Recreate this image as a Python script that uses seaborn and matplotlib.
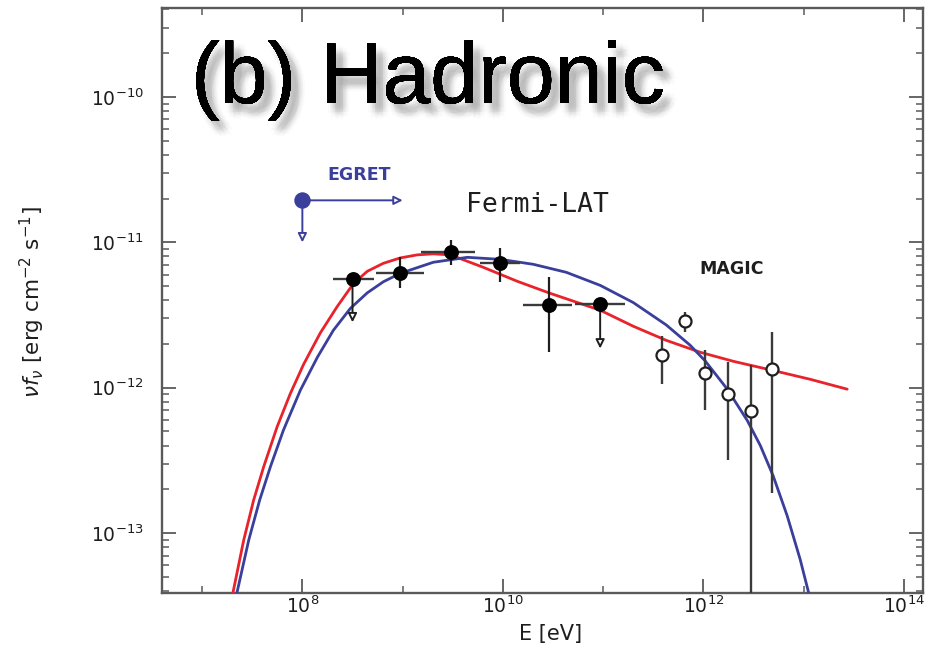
import numpy as np
import pandas as pd
import matplotlib
matplotlib.use("Agg")
import matplotlib.pyplot as plt
import seaborn as sns
from matplotlib import patheffects as pe
from matplotlib.ticker import FixedLocator, LogLocator, NullFormatter, FuncFormatter

# ---------------- data (log10 values) ----------------
red_logE = [7.307, 7.415, 7.514, 7.614, 7.748, 7.880, 8.013, 8.179, 8.346, 8.511, 8.648,
            8.808, 8.977, 9.147, 9.306, 9.476, 9.805, 10.144, 10.473, 10.971, 11.300,
            11.629, 11.968, 12.297, 12.686, 13.065, 13.434]
red_logF = [-13.412, -13.048, -12.773, -12.544, -12.269, -12.040, -11.838, -11.623,
            -11.443, -11.282, -11.199, -11.144, -11.107, -11.086, -11.079, -11.086,
            -11.172, -11.268, -11.351, -11.467, -11.577, -11.674, -11.756, -11.818,
            -11.880, -11.942, -12.010]

blue_logE = [7.347, 7.465, 7.574, 7.681, 7.811, 7.980, 8.150, 8.309, 8.479, 8.648, 8.808,
             8.977, 9.306, 9.645, 9.974, 10.303, 10.632, 10.971, 11.300, 11.629, 11.868,
             12.018, 12.237, 12.437, 12.567, 12.696, 12.836, 12.965, 13.050]
blue_logF = [-13.412, -13.048, -12.773, -12.544, -12.292, -12.017, -11.790, -11.605,
             -11.454, -11.347, -11.271, -11.213, -11.137, -11.103, -11.117, -11.151,
             -11.206, -11.296, -11.414, -11.568, -11.708, -11.816, -12.009, -12.225,
             -12.397, -12.607, -12.882, -13.181, -13.412]

fermi_logE = [8.50, 8.97, 9.48, 9.97, 10.46, 10.97]
fermi_logF = [-11.254, -11.213, -11.069, -11.144, -11.433, -11.426]
fermi_logE_lo = [8.31, 8.73, 9.18, 9.77, 10.20, 10.72]
fermi_logE_hi = [8.71, 9.21, 9.72, 10.17, 10.69, 11.22]
fermi_logF_lo = [np.nan, -11.316, -11.158, -11.275, -11.756, np.nan]
fermi_logF_hi = [np.nan, -11.103, -10.986, -11.041, -11.240, np.nan]
fermi_ul_logE = [8.50, 10.97]
fermi_ul_tip = [-11.55, -11.73]

magic_logE = [11.59, 11.82, 12.02, 12.25, 12.47, 12.68]
magic_logF = [-11.772, -11.543, -11.902, -12.040, -12.161, -11.873]
magic_logF_hi = [-11.646, -11.481, -11.742, -11.823, -11.845, -11.616]
magic_logF_lo = [-11.976, -11.619, -12.155, -12.498, -14.000, -12.725]

egret_logE = 8.0
egret_logF = -10.711
egret_arrow_logE = 9.0
egret_arrow_logF = -11.0

xticks_major = [8, 10, 12, 14]
xticks_minor = [7, 9, 11, 13]
yticks_major = [-13, -12, -11, -10]

# ---------------- styling ----------------
sns.set_theme(style="ticks")
plt.rcParams['font.family'] = ['DejaVu Sans']

RED = "#e8232b"
BLUE = "#3a3f9c"
SPINE = "#5a5a5a"
INK = "#1e1e1e"

fig = plt.figure(figsize=(9.33, 6.55), dpi=100)
ax = fig.add_axes([162/933, 1-593/655, (923-162)/933, (593-8)/655])
ax.set_xscale('log')
ax.set_yscale('log')

p = lambda a: np.power(10.0, np.asarray(a, dtype=float))

curves = pd.concat([
    pd.DataFrame({"E": p(red_logE), "F": p(red_logF), "model": "red"}),
    pd.DataFrame({"E": p(blue_logE), "F": p(blue_logF), "model": "blue"}),
])
sns.lineplot(data=curves, x="E", y="F", hue="model", palette={"red": RED, "blue": BLUE},
             sort=False, estimator=None, lw=2.0, legend=False, ax=ax, zorder=3)

# Fermi horizontal and vertical bars
fE = p(fermi_logE); fF = p(fermi_logF)
ax.errorbar(fE, fF, xerr=[fE - p(fermi_logE_lo), p(fermi_logE_hi) - fE],
            fmt='none', ecolor='#3a3a3a', elinewidth=1.7, capsize=0, zorder=4)
ylo = np.asarray(p(fermi_logF_lo)); yhi = np.asarray(p(fermi_logF_hi))
ok = ~np.isnan(ylo)
ax.errorbar(fE[ok], fF[ok], yerr=[fF[ok] - ylo[ok], yhi[ok] - fF[ok]],
            fmt='none', ecolor=INK, elinewidth=1.6, capsize=0, zorder=4)
for le, tip in zip(fermi_ul_logE, fermi_ul_tip):
    y0 = fF[fermi_logE.index(le)]
    ax.annotate("", xy=(p(le), p(tip)), xytext=(p(le), y0),
                arrowprops=dict(arrowstyle='-|>', fc='white', ec=INK, lw=1.4,
                                mutation_scale=13, shrinkA=0, shrinkB=0), zorder=4)
fermi_df = pd.DataFrame({"E": fE, "F": fF})
sns.scatterplot(data=fermi_df, x="E", y="F", color='black', s=115, edgecolor='black',
                linewidth=0, ax=ax, zorder=6)

# MAGIC
mE = p(magic_logE); mF = p(magic_logF)
ax.errorbar(mE, mF, yerr=[mF - p(magic_logF_lo), p(magic_logF_hi) - mF],
            fmt='none', ecolor='#3a3a3a', elinewidth=1.7, capsize=0, zorder=4)
magic_df = pd.DataFrame({"E": mE, "F": mF})
sns.scatterplot(data=magic_df, x="E", y="F", color='white', s=75, edgecolor=INK,
                linewidth=1.6, ax=ax, zorder=6)

# EGRET
ax.annotate("", xy=(p(egret_arrow_logE), p(egret_logF)), xytext=(p(egret_logE), p(egret_logF)),
            arrowprops=dict(arrowstyle='-|>', fc='white', ec=BLUE, lw=1.4,
                            mutation_scale=13, shrinkA=0, shrinkB=0), zorder=4)
ax.annotate("", xy=(p(egret_logE), p(egret_arrow_logF)), xytext=(p(egret_logE), p(egret_logF)),
            arrowprops=dict(arrowstyle='-|>', fc='white', ec=BLUE, lw=1.4,
                            mutation_scale=13, shrinkA=0, shrinkB=0), zorder=4)
sns.scatterplot(x=[p(egret_logE)], y=[p(egret_logF)], color=BLUE, s=140, linewidth=0,
                ax=ax, zorder=6)

# axes
ax.set_xlim(p(6.6), p(14.19))
ax.set_ylim(p(-13.412), p(-9.388))
ax.xaxis.set_major_locator(FixedLocator(p(xticks_major)))
ax.xaxis.set_minor_locator(FixedLocator(p(xticks_minor)))
ax.xaxis.set_minor_formatter(NullFormatter())
ax.xaxis.set_major_formatter(FuncFormatter(lambda v, pos: r"$10^{%d}$" % round(np.log10(v))))
ax.yaxis.set_major_locator(FixedLocator(p(yticks_major)))
ax.yaxis.set_minor_locator(LogLocator(base=10, subs=np.arange(2, 10)))
ax.yaxis.set_minor_formatter(NullFormatter())
ax.yaxis.set_major_formatter(FuncFormatter(lambda v, pos: r"$10^{%d}$" % round(np.log10(v))))

ax.tick_params(which='both', direction='in', top=True, right=True, colors=SPINE,
               labelcolor=INK)
ax.tick_params(which='major', length=10, width=1.3, labelsize=13.5)
ax.tick_params(which='minor', length=5, width=1.1)
ax.tick_params(axis='y', which='major', pad=13)
ax.tick_params(axis='x', which='major', pad=2)
for s in ax.spines.values():
    s.set_color(SPINE)
    s.set_linewidth(1.7)

ax.set_xlabel("E [eV]", fontsize=15, color=INK)
ax.xaxis.set_label_coords((551-162)/761, (593-624)/585)
ax.xaxis.label.set_va('top')
ax.set_ylabel(r"$\nu f_\nu$ [erg cm$^{-2}$ s$^{-1}$]", fontsize=15.5, color=INK)
ax.yaxis.set_label_coords((47-162)/761, (593-302)/585)

# annotations
ax.text(p(8.57), p(-10.54), "EGRET", color=BLUE, fontsize=12.5,
        fontweight='bold', ha='center', va='center')
ax.text(p(10.34), p(-10.74), "Fermi-LAT", color=INK, fontsize=19,
        family='DejaVu Sans Mono', ha='center', va='center')
ax.text(p(12.28), p(-11.18), "MAGIC", color=INK, fontsize=12.5,
        fontweight='bold', ha='center', va='center')

shadow = []
for r in (0.0, 1.6, 3.2, 4.8):
    n = 1 if r == 0 else 8
    for k in range(n):
        ang = 2 * np.pi * k / n + r
        shadow.append(pe.withSimplePatchShadow(
            offset=(5.5 + r * np.cos(ang), -6.5 + r * np.sin(ang)),
            shadow_rgbFace='#555555', alpha=0.022))
title = fig.text(191/933, 1-103/655, "(b) Hadronic", fontsize=62, family='Liberation Sans',
                 ha='left', va='baseline', color='black')
title.set_path_effects(shadow + [pe.Normal()])

fig.savefig("out.png", dpi=100)
